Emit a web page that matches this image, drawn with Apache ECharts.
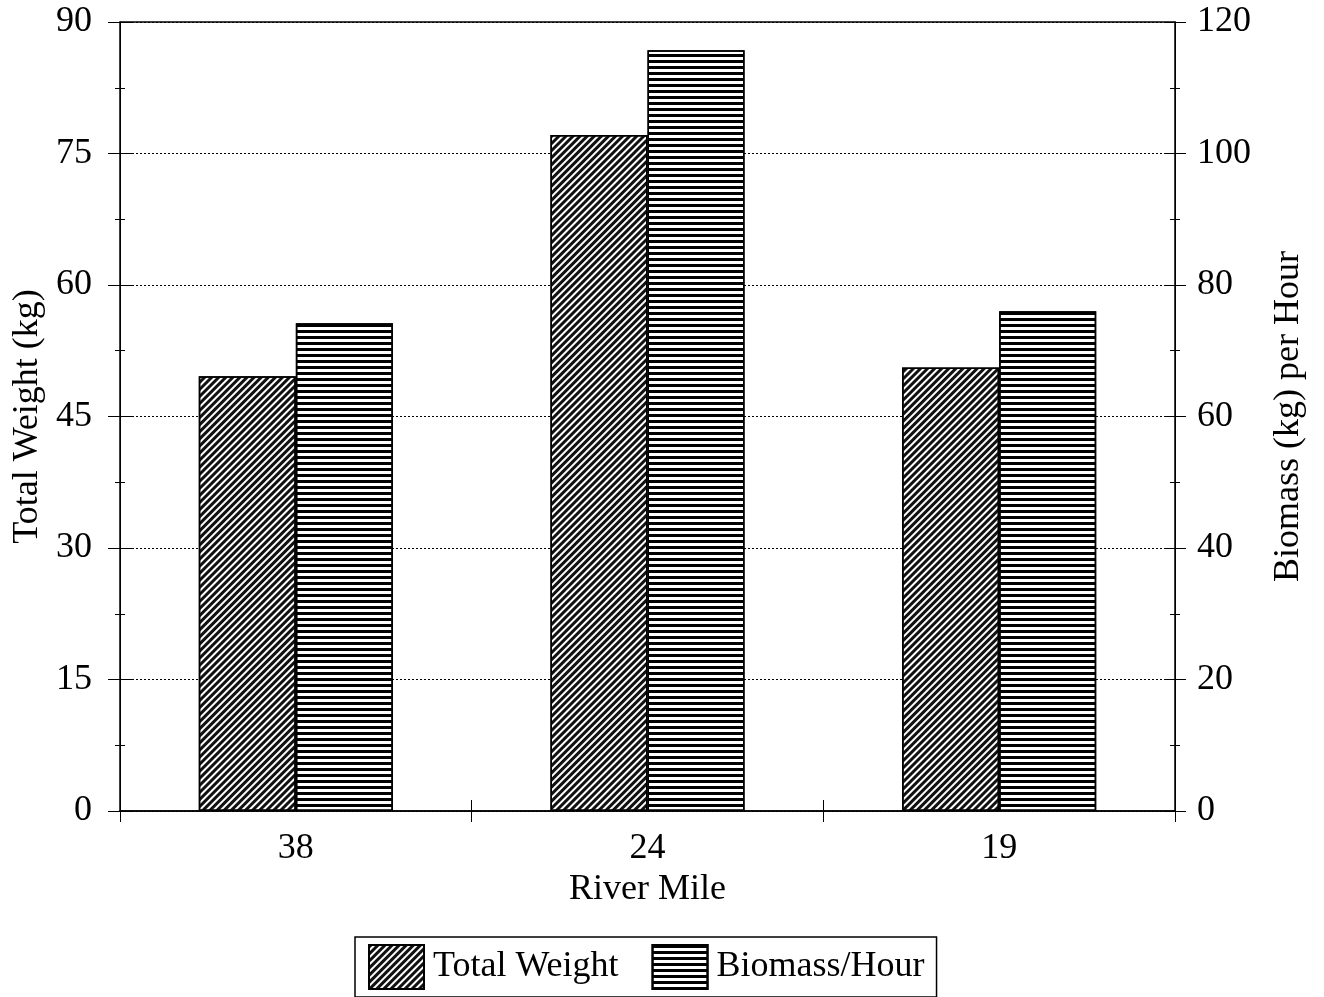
<!DOCTYPE html>
<html>
<head>
<meta charset="utf-8">
<script src="https://cdn.jsdelivr.net/npm/echarts@6/dist/echarts.min.js"></script>
<style>html,body{margin:0;padding:0;background:#fff}#c{width:1324px;height:997px}</style>
</head>
<body>
<div id="c"></div>
<script>
var categories = ['38', '24', '19'];
var totalWeight = [49.6, 77.1, 50.6];
var biomassHour = [74.2, 115.7, 76.0];
var leftTicks = {min: 0, max: 90, interval: 15};
var rightTicks = {min: 0, max: 120, interval: 20};

var font = 'Liberation Serif';
var fs = 36;
var chart = echarts.init(document.getElementById('c'));
var black = '#000';
chart.setOption({
  backgroundColor: '#fff',
  animation: false,
  grid: {left: 120, right: 149, top: 22, bottom: 186, show: true, borderColor: black, borderWidth: 1.5, backgroundColor: 'transparent'},
  legend: {
    left: 355, top: 937, padding: [7, 12, 7, 13],
    borderColor: black, borderWidth: 1.5,
    itemWidth: 55, itemHeight: 44, itemGap: 33,
    icon: 'rect',
    textStyle: {fontFamily: font, fontSize: fs, color: black, padding: [0, 0, 0, 4]},
    data: ['Total Weight', 'Biomass/Hour']
  },
  xAxis: [{
    type: 'category', data: categories,
    axisLine: {lineStyle: {color: black, width: 1.5}},
    axisTick: {show: true, length: 11, lineStyle: {color: black}},
    axisLabel: {fontFamily: font, fontSize: fs, color: black, margin: 20},
    name: 'River Mile', nameLocation: 'middle', nameGap: 58,
    nameTextStyle: {fontFamily: font, fontSize: fs, color: black}
  }, {
    type: 'category', data: categories, position: 'bottom',
    axisLine: {show: false}, axisTick: {show: true, inside: true, length: 11, lineStyle: {color: black}},
    axisLabel: {show: false}
  }],
  yAxis: [{
    type: 'value', min: leftTicks.min, max: leftTicks.max, interval: leftTicks.interval,
    axisLine: {show: true, lineStyle: {color: black, width: 1}},
    axisTick: {show: true, length: 12, lineStyle: {color: black}},
    minorTick: {show: true, splitNumber: 2, length: 5, lineStyle: {color: black}},
    splitLine: {show: true, lineStyle: {color: black, type: [2, 2], width: 1}},
    axisLabel: {fontFamily: font, fontSize: fs, color: black, margin: 28},
    name: 'Total Weight (kg)', nameLocation: 'middle', nameGap: 74, nameRotate: 90,
    nameTextStyle: {fontFamily: font, fontSize: fs, color: black}
  }, {
    type: 'value', position: 'right', min: rightTicks.min, max: rightTicks.max, interval: rightTicks.interval,
    axisLine: {show: true, lineStyle: {color: black, width: 1}},
    axisTick: {show: true, length: 11, lineStyle: {color: black}},
    minorTick: {show: true, splitNumber: 2, length: 5, lineStyle: {color: black}},
    splitLine: {show: false},
    axisLabel: {fontFamily: font, fontSize: fs, color: black, margin: 22},
    name: 'Biomass (kg) per Hour', nameLocation: 'middle', nameGap: 96, nameRotate: 90,
    nameTextStyle: {fontFamily: font, fontSize: fs, color: black}
  }, {
    type: 'value', position: 'left', min: leftTicks.min, max: leftTicks.max, interval: leftTicks.interval,
    axisLine: {show: false}, axisLabel: {show: false}, splitLine: {show: false},
    axisTick: {show: true, inside: true, length: 12, lineStyle: {color: black}},
    minorTick: {show: true, splitNumber: 2, length: 5, lineStyle: {color: black}}
  }, {
    type: 'value', position: 'right', min: rightTicks.min, max: rightTicks.max, interval: rightTicks.interval,
    axisLine: {show: false}, axisLabel: {show: false}, splitLine: {show: false},
    axisTick: {show: true, inside: true, length: 11, lineStyle: {color: black}},
    minorTick: {show: true, splitNumber: 2, length: 5, lineStyle: {color: black}}
  }],
  series: [{
    name: 'Total Weight', type: 'bar', yAxisIndex: 0, data: totalWeight,
    barWidth: '27.6%', barGap: '0%',
    itemStyle: {
      color: '#fff', borderColor: black, borderWidth: 1.5,
      decal: {symbol: 'rect', dashArrayX: [1, 0], dashArrayY: [3, 2], rotation: -Math.PI / 4, color: '#111', symbolSize: 1}
    }
  }, {
    name: 'Biomass/Hour', type: 'bar', yAxisIndex: 1, data: biomassHour,
    barWidth: '27.6%', barGap: '0%',
    itemStyle: {
      color: '#fff', borderColor: black, borderWidth: 1.5,
      decal: {symbol: 'rect', dashArrayX: [1, 0], dashArrayY: [3, 3], rotation: 0, color: '#000', symbolSize: 1}
    }
  }]
});
</script>
</body>
</html>
